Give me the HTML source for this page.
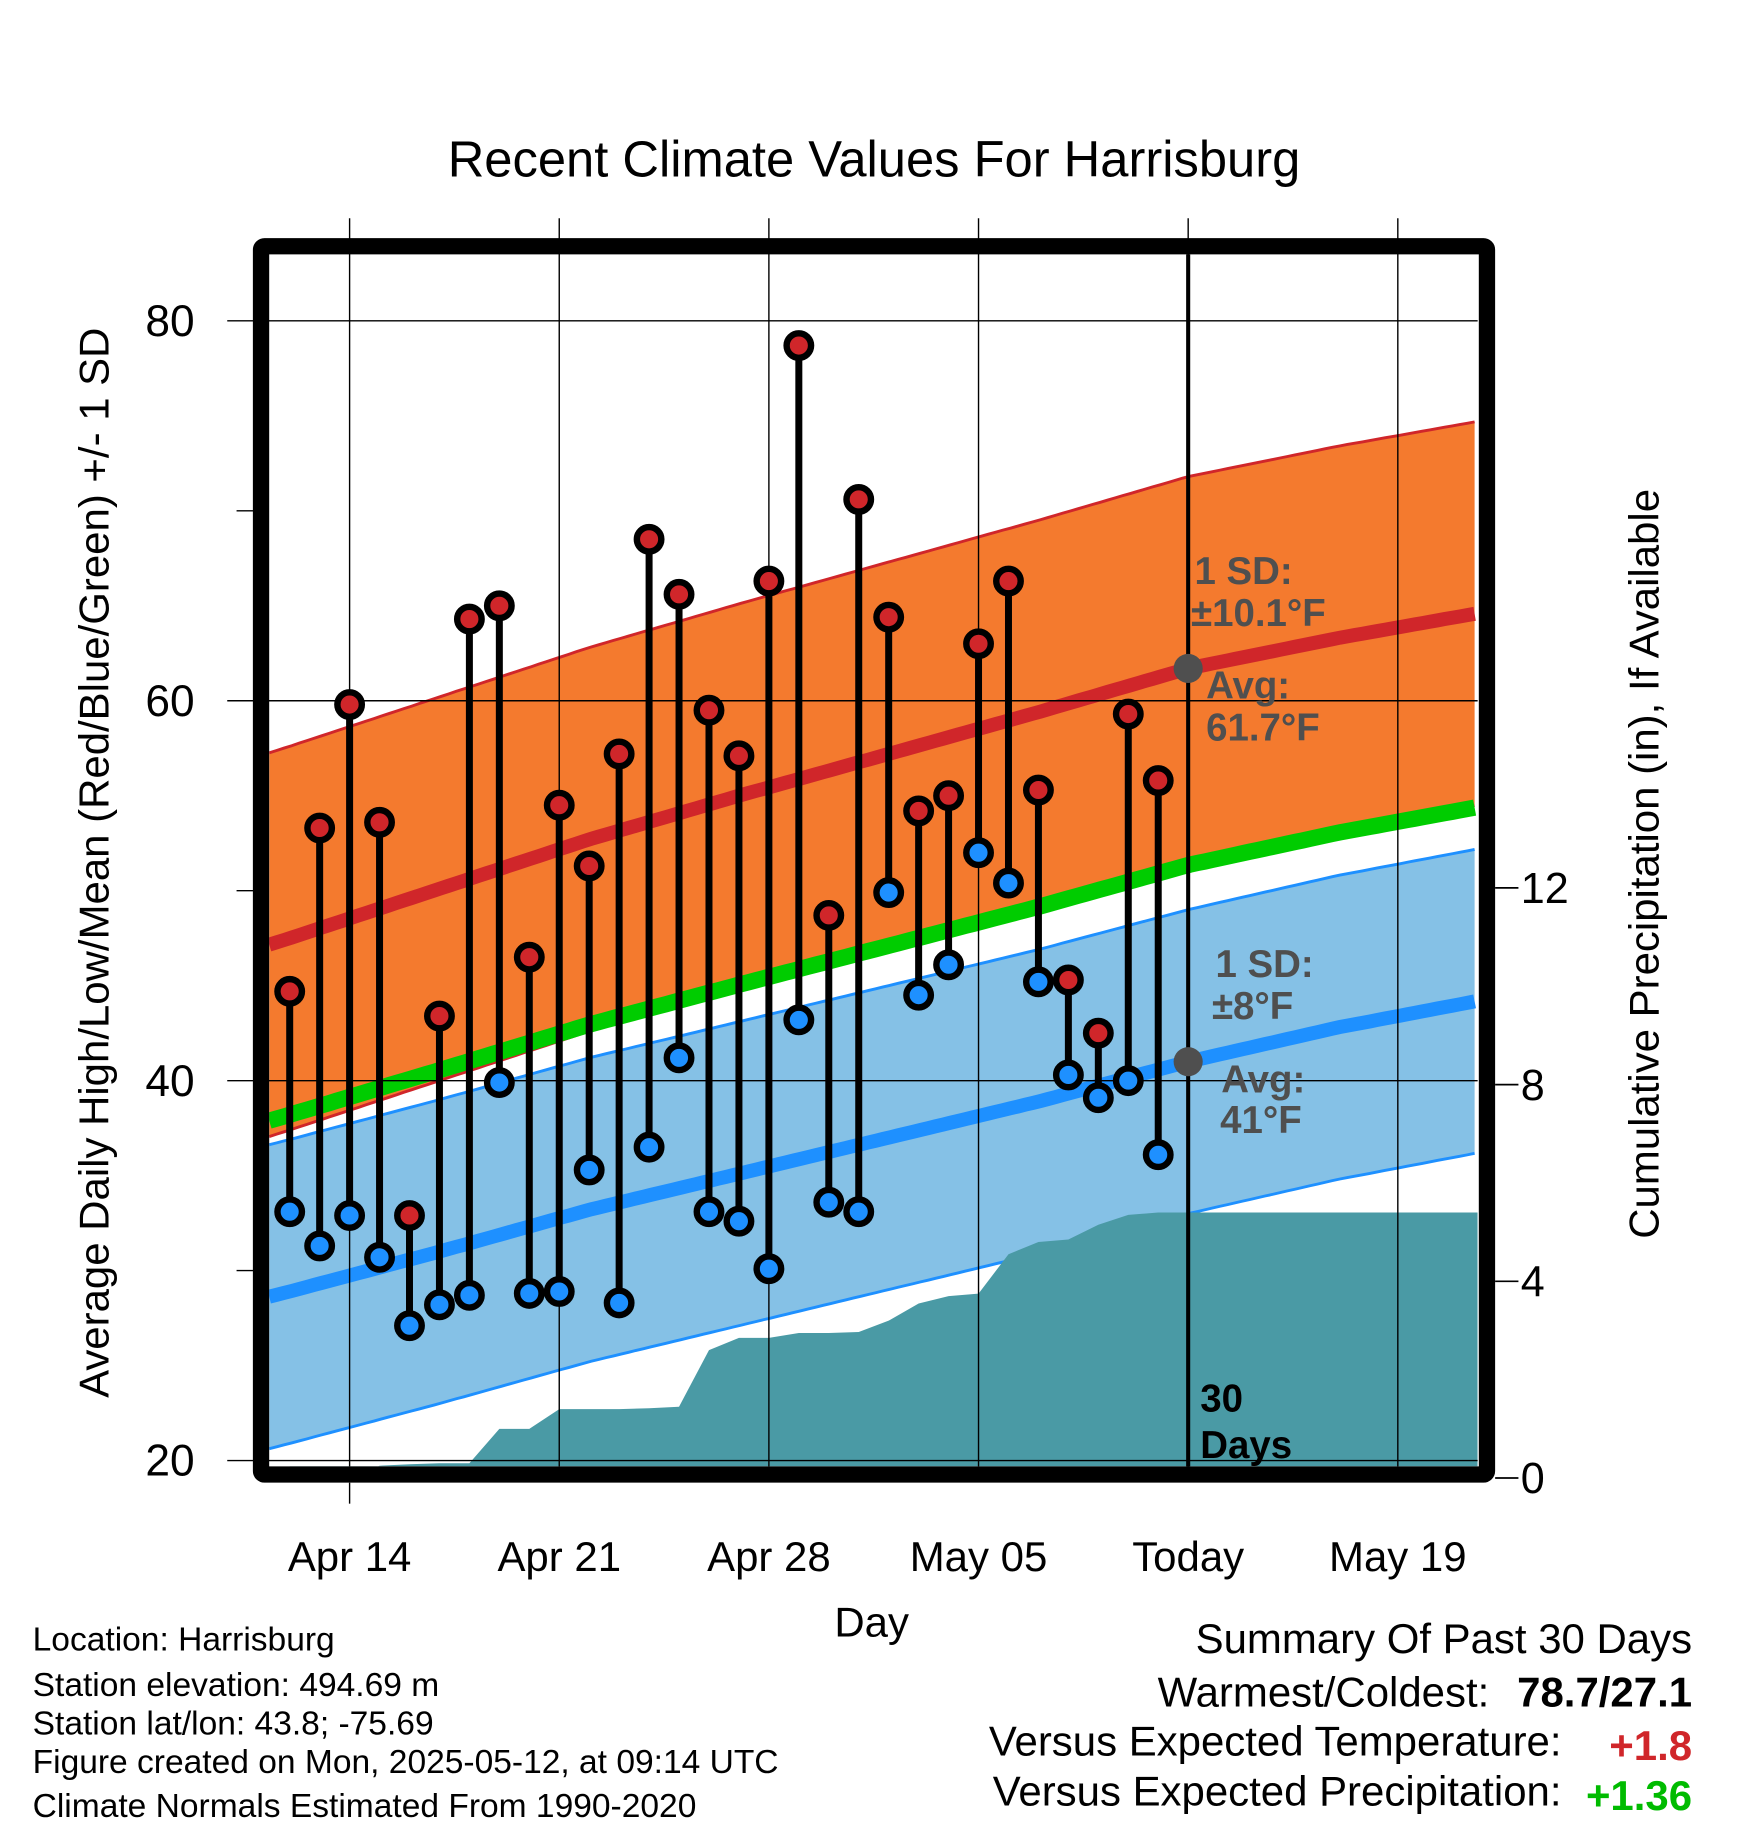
<!DOCTYPE html>
<html><head><meta charset="utf-8"><style>
html,body{margin:0;padding:0;background:#fff;}
svg{display:block;font-family:"Liberation Sans",Arial,sans-serif;}
</style></head><body>
<svg id="chart" width="1748" height="1828" viewBox="0 0 1500 1568" xmlns="http://www.w3.org/2000/svg">
<text x="750" y="151" text-anchor="middle" font-size="43.5">Recent Climate Values For Harrisburg</text>
<g id="plot"></g>
<g font-weight="bold" font-size="33" fill="#4f4f4f">
<text x="1025" y="501">1 SD:</text>
<text x="1022" y="537">±10.1°F</text>
<text x="1035" y="599">Avg:</text>
<text x="1035" y="635">61.7°F</text>
<text x="1043" y="838">1 SD:</text>
<text x="1040" y="874">±8°F</text>
<text x="1048" y="937">Avg:</text>
<text x="1047" y="972">41°F</text>
<text x="1030" y="1211" fill="#000">30</text>
<text x="1030" y="1251" fill="#000">Days</text>
</g>
<text x="748" y="1404" text-anchor="middle" font-size="36">Day</text>
<text transform="translate(93,740) rotate(-90)" text-anchor="middle" font-size="36">Average Daily High/Low/Mean (Red/Blue/Green) +/- 1 SD</text>
<text transform="translate(1423,741) rotate(-90)" text-anchor="middle" font-size="36">Cumulative Precipitation (in), If Available</text>
<g font-size="28.8">
<text x="28" y="1416">Location: Harrisburg</text>
<text x="28" y="1455">Station elevation: 494.69 m</text>
<text x="28" y="1488">Station lat/lon: 43.8; -75.69</text>
<text x="28" y="1521">Figure created on Mon, 2025-05-12, at 09:14 UTC</text>
<text x="28" y="1559">Climate Normals Estimated From 1990-2020</text>
</g>
<g font-size="36">
<text x="1452" y="1418" text-anchor="end">Summary Of Past 30 Days</text>
<text x="1278" y="1464" text-anchor="end">Warmest/Coldest:</text>
<text x="1452" y="1464" text-anchor="end" font-weight="bold">78.7/27.1</text>
<text x="1340" y="1506" text-anchor="end">Versus Expected Temperature:</text>
<text x="1452" y="1510" text-anchor="end" font-weight="bold" fill="#d0262a">+1.8</text>
<text x="1340" y="1549" text-anchor="end">Versus Expected Precipitation:</text>
<text x="1452" y="1553" text-anchor="end" font-weight="bold" fill="#00bb00">+1.36</text>
</g>
</svg>
<script>
// day index 0 = Apr 12
const highs = [44.7,53.3,59.8,53.6,32.9,43.4,64.3,65.0,46.5,54.5,51.3,57.2,68.5,65.6,59.5,57.1,66.3,78.7,48.7,70.6,64.4,54.2,55.0,63.0,66.3,55.3,45.3,42.5,59.3,55.8];
const lows  = [33.1,31.3,32.9,30.7,27.1,28.2,28.7,39.9,28.8,28.9,35.3,28.3,36.5,41.2,33.1,32.6,30.1,43.2,33.6,33.1,49.9,44.5,46.1,52.0,50.4,45.2,40.3,39.1,40.0,36.1];
const precip = [0,0,0,0.25,0.28,0.3,0.3,1.0,1.0,1.4,1.4,1.4,1.42,1.45,2.6,2.85,2.85,2.95,2.95,2.97,3.2,3.55,3.7,3.75,4.55,4.8,4.85,5.15,5.35,5.4,5.4];
const normDays = [-1,0,5,10,15,20,25,30,35,40,41];
const normHigh = [47.0,47.5,50.1,52.7,55.0,57.2,59.4,61.7,63.3,64.7,65.0];
const normLow  = [28.5,28.9,31.0,33.2,35.1,37.0,38.9,41.0,42.8,44.3,44.6];
const highSD = [10.1];
const lowSD = [8];
const xTickLabels = ["Apr 14","Apr 21","Apr 28","May 05","Today","May 19"];
const xTickDays = [2,9,16,23,30,37];
const yTicks = [20,40,60,80];
const yMinor = [30,50,70];
const y2Ticks = [0,4,8,12];

const L=231,R=1268,T=218,B=1258;
const xs = d => 300 + (d-2)*25.7;
const ys = v => 1253 - (v-20)*16.3;
const yp = p => 1268 - p*42.2;
const NS="http://www.w3.org/2000/svg";
const plot=document.getElementById('plot');
function mk(tag,attrs,parent){const e=document.createElementNS(NS,tag);for(const k in attrs)e.setAttribute(k,attrs[k]);(parent||plot).appendChild(e);return e;}
function interp(arr,d){for(let i=0;i<normDays.length-1;i++){if(d<=normDays[i+1]){const t=(d-normDays[i])/(normDays[i+1]-normDays[i]);return arr[i]+t*(arr[i+1]-arr[i]);}}return arr[arr.length-1];}
const clip=mk('clipPath',{id:'pc'});mk('rect',{x:L,y:T,width:R-L,height:B-T},clip);
const g=mk('g',{'clip-path':'url(#pc)'});
const d0=(L-300)/25.7+2, d1=(R-300)/25.7+2;
const samples=[];for(let d=d0;d<=d1+0.001;d+=0.25)samples.push(d);
function line(fn){return samples.map(d=>xs(d).toFixed(1)+','+ys(fn(d)).toFixed(1)).join(' ');}
function band(fu,fl){return line(fu)+' '+samples.slice().reverse().map(d=>xs(d).toFixed(1)+','+ys(fl(d)).toFixed(1)).join(' ');}
const hu=d=>interp(normHigh,d)+highSD[0], hl=d=>interp(normHigh,d)-highSD[0];
const lu=d=>interp(normLow,d)+lowSD[0], ll=d=>interp(normLow,d)-lowSD[0];
let e;
e=mk('polygon',{points:band(hu,hl),fill:'#f47a2e'},g);


mk('polyline',{points:line(hu),fill:'none',stroke:'#d0262a','stroke-width':2.5},g);
mk('polyline',{points:line(hl),fill:'none',stroke:'#d0262a','stroke-width':2.5},g);
e=mk('polygon',{points:band(lu,ll),fill:'#85c1e6'},g);


mk('polyline',{points:line(lu),fill:'none',stroke:'#1e90ff','stroke-width':2.5},g);
mk('polyline',{points:line(ll),fill:'none',stroke:'#1e90ff','stroke-width':2.5},g);
e=mk('polyline',{points:line(d=>(interp(normHigh,d)+interp(normLow,d))/2),fill:'none',stroke:'#00cc00','stroke-width':14},g);


e=mk('polyline',{points:line(d=>interp(normHigh,d)),fill:'none',stroke:'#d0262a','stroke-width':12},g);


e=mk('polyline',{points:line(d=>interp(normLow,d)),fill:'none',stroke:'#1e90ff','stroke-width':12},g);


// precipitation
let pts=[xs(0)+','+B];precip.forEach((p,i)=>pts.push(xs(i)+','+yp(p)));
pts.push(R+','+yp(precip[precip.length-1]));pts.push(R+','+B);
e=mk('polygon',{points:pts.join(' '),fill:'#4a9aa5'},g);


// grid
xTickDays.forEach(d=>{mk('line',{x1:xs(d),x2:xs(d),y1:187,y2:B,stroke:'#000','stroke-width':1.2});});
yTicks.forEach(v=>{mk('line',{x1:195,x2:R,y1:ys(v),y2:ys(v),stroke:'#000','stroke-width':1.2});});
yMinor.forEach(v=>{mk('line',{x1:203,x2:218,y1:ys(v),y2:ys(v),stroke:'#000','stroke-width':1.2});});
y2Ticks.forEach(p=>{mk('line',{x1:1283,x2:1303,y1:yp(p),y2:yp(p),stroke:'#000','stroke-width':1.5});
 e=mk('text',{x:1305,y:yp(p)+13,'font-size':37});e.textContent=p;
 
 });
yTicks.forEach(v=>{e=mk('text',{x:167,y:ys(v)+13,'font-size':38,'text-anchor':'end'});e.textContent=v;
 
 });
xTickLabels.forEach((t,i)=>{e=mk('text',{x:xs(xTickDays[i]),y:1348,'font-size':36,'text-anchor':'middle'});e.textContent=t;
 
 });
// today line
e=mk('line',{x1:xs(30),x2:xs(30),y1:T,y2:B,stroke:'#000','stroke-width':3.5});


// obs
highs.forEach((h,i)=>{const x=xs(i);
 e=mk('line',{x1:x,x2:x,y1:ys(h),y2:ys(lows[i]),stroke:'#000','stroke-width':6});
 
 });
function dot(x,y,c,name){e=mk('circle',{cx:x,cy:y,r:10.5,fill:c,stroke:'#000','stroke-width':5.5});
 
 }
highs.forEach((h,i)=>{dot(xs(i),ys(lows[i]),'#1e90ff','low-point');dot(xs(i),ys(h),'#d0262a','high-point');});
// avg markers
mk('circle',{cx:xs(30),cy:ys(interp(normHigh,30)),r:12.5,fill:'#4f4f4f'});
mk('circle',{cx:xs(30),cy:ys(interp(normLow,30)),r:12.5,fill:'#4f4f4f'});
// frame
e=mk('rect',{x:224,y:211,width:1052,height:1054,fill:'none',stroke:'#000','stroke-width':14,rx:3});


mk('line',{x1:xs(2),x2:xs(2),y1:1272,y2:1290,stroke:'#000','stroke-width':1.2});
</script>
</body></html>
